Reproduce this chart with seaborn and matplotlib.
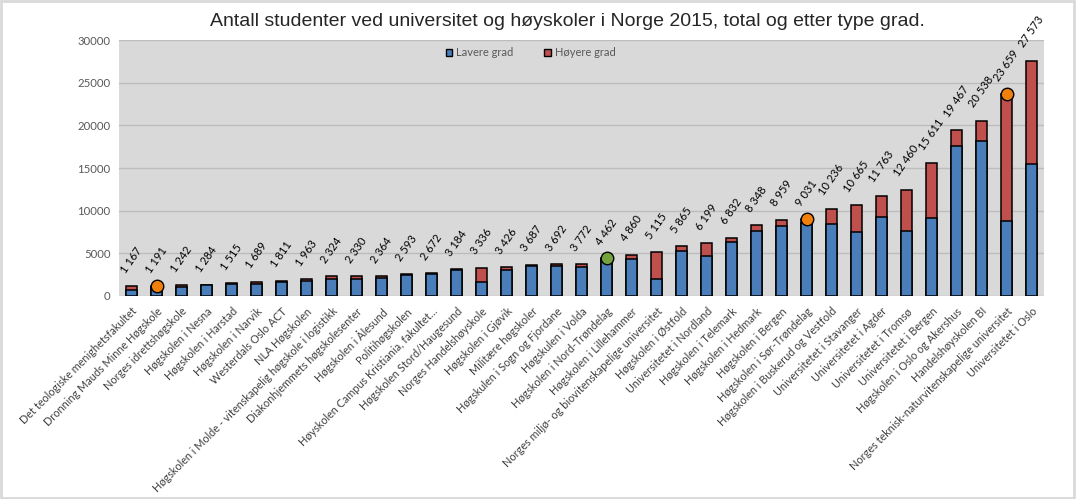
import matplotlib
matplotlib.use("Agg")
import matplotlib.pyplot as plt
from matplotlib.patches import Rectangle
import seaborn as sns
import pandas as pd

institutions = [
    "Det teologiske menighetsfakultet",
    "Dronning Mauds Minne Høgskole",
    "Norges idrettshøgskole",
    "Høgskolen i Nesna",
    "Høgskolen i Harstad",
    "Høgskolen i Narvik",
    "Westerdals Oslo ACT",
    "NLA Høgskolen",
    "Høgskolen i Molde - vitenskapelig høgskole i logistikk",
    "Diakonhjemmets høgskolesenter",
    "Høgskolen i Ålesund",
    "Politihøgskolen",
    "Høyskolen Campus Kristiania, fakultet...",
    "Høgskolen Stord/Haugesund",
    "Norges Handelshøyskole",
    "Høgskolen i Gjøvik",
    "Militære høgskoler",
    "Høgskulen i Sogn og Fjordane",
    "Høgskulen i Volda",
    "Høgskolen i Nord-Trøndelag",
    "Høgskolen i Lillehammer",
    "Norges miljø- og biovitenskapelige universitet",
    "Høgskolen i Østfold",
    "Universitetet i Nordland",
    "Høgskolen i Telemark",
    "Høgskolen i Hedmark",
    "Høgskolen i Bergen",
    "Høgskolen i Sør-Trøndelag",
    "Høgskolen i Buskerud og Vestfold",
    "Universitetet i Stavanger",
    "Universitetet i Agder",
    "Universitetet i Tromsø",
    "Universitetet i Bergen",
    "Høgskolen i Oslo og Akershus",
    "Handelshøyskolen BI",
    "Norges teknisk-naturvitenskapelige universitet",
    "Universitetet i Oslo",
]
totals = [1167, 1191, 1242, 1284, 1515, 1689, 1811, 1963, 2324, 2330, 2364, 2593,
          2672, 3184, 3336, 3426, 3687, 3692, 3772, 4462, 4860, 5115, 5865, 6199,
          6832, 8348, 8959, 9031, 10236, 10665, 11763, 12460, 15611, 19467, 20538,
          23659, 27573]
lower = [750, 1000, 1000, 1250, 1450, 1450, 1650, 1800, 2000, 2000, 2150, 2500,
         2600, 3050, 1600, 3050, 3550, 3550, 3400, 4300, 4300, 1950, 5300, 4700,
         6300, 7600, 8250, 8500, 8450, 7500, 9200, 7600, 9100, 17600, 18150,
         8800, 15500]
highlight_orange = ["Dronning Mauds Minne Høgskole", "Høgskolen i Sør-Trøndelag",
                    "Norges teknisk-naturvitenskapelige universitet"]
highlight_green = ["Høgskolen i Nord-Trøndelag"]

BLUE = "#4a7ebb"
RED = "#c0504d"
ORANGE = "#f07f0c"
GREEN = "#74a23c"

sns.set_theme(style="white")
plt.rcParams['font.family'] = ['Lato', 'DejaVu Sans']

df = pd.DataFrame({"inst": institutions, "total": totals, "lower": lower})

W, H = 1076, 499
fig = plt.figure(figsize=(W / 100, H / 100), dpi=100)
ax = fig.add_axes([119 / W, 1 - 296 / H, 925 / W, 256 / H])
ax.set_facecolor("#d9d9d9")

sns.barplot(data=df, x="inst", y="total", order=institutions, color=RED,
            saturation=1, edgecolor="black", linewidth=1.1, width=0.44, ax=ax,
            errorbar=None, zorder=2)
sns.barplot(data=df, x="inst", y="lower", order=institutions, color=BLUE,
            saturation=1, edgecolor="black", linewidth=1.1, width=0.44, ax=ax,
            errorbar=None, zorder=3)

sub_o = df[df["inst"].isin(highlight_orange)]
sub_g = df[df["inst"].isin(highlight_green)]
sns.stripplot(data=sub_o, x="inst", y="total", order=institutions, jitter=False,
              color=ORANGE, size=9, edgecolor="black", linewidth=1, ax=ax, zorder=5)
sns.stripplot(data=sub_g, x="inst", y="total", order=institutions, jitter=False,
              color=GREEN, size=9, edgecolor="black", linewidth=1, ax=ax, zorder=5)

for i, v in enumerate(totals):
    ax.annotate(f"{v:,}".replace(",", " "), (i, v), xytext=(0, 8),
                textcoords="offset points", rotation=55, ha="center", va="bottom",
                fontsize=8, color="black", zorder=6)

ax.set_xlim(-0.5, len(institutions) - 0.5)
ax.set_ylim(0, 30000)
ax.set_yticks(range(0, 30001, 5000))
ax.set_yticklabels([str(t) for t in range(0, 30001, 5000)])
ax.yaxis.grid(True, color="#bcbcbc", linewidth=1)
ax.set_axisbelow(True)
for s in ax.spines.values():
    s.set_visible(False)
ax.tick_params(axis="y", length=0, pad=6, labelsize=8.2, labelcolor="#595959")
ax.tick_params(axis="x", length=0, pad=7, labelsize=7.8, labelcolor="#404040")
ax.set_xticks(range(len(institutions)))
ax.set_xticklabels(institutions, rotation=45, ha="right", rotation_mode="anchor")
ax.set_xlabel("")
ax.set_ylabel("")

handles = [Rectangle((0, 0), 1, 1, facecolor=BLUE, edgecolor="black", linewidth=1),
           Rectangle((0, 0), 1, 1, facecolor=RED, edgecolor="black", linewidth=1)]
ax.legend(handles, ["Lavere grad", "Høyere grad"], loc="center",
          bbox_to_anchor=(0.445, 0.95), ncol=2, frameon=False, fontsize=8,
          labelcolor="#595959", handlelength=0.6, handleheight=0.6,
          handletextpad=0.35, columnspacing=2.8)

fig.text(567 / W, 1 - 22 / H,
         "Antall studenter ved universitet og høyskoler i Norge 2015, total og etter type grad.",
         ha="center", va="center", fontsize=14, family=["Liberation Sans", "DejaVu Sans"])

fig.patches.append(Rectangle((0.001, 0.002), 0.997, 0.996, transform=fig.transFigure,
                             fill=False, edgecolor="#d9d9d9", linewidth=2))

fig.savefig("out.png", dpi=100)
